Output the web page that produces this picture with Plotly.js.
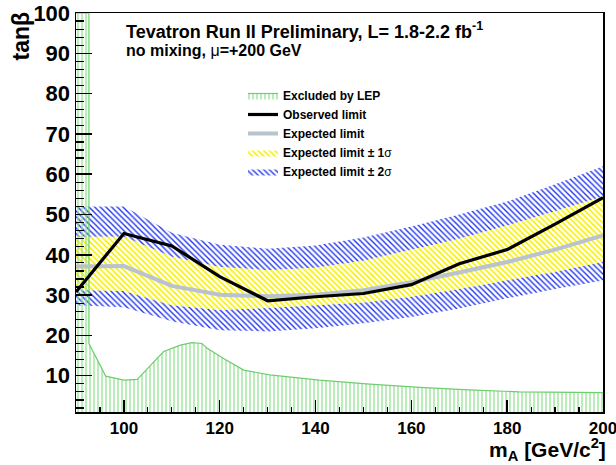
<!DOCTYPE html>
<html>
<head>
<meta charset="utf-8">
<script src="https://cdn.plot.ly/plotly-3.0.1.min.js"></script>
<style>html,body{margin:0;padding:0;background:#fff;}#chart{width:616px;height:465px;}</style>
</head>
<body>
<div id="chart"></div>
<script>
// Higgs mass points (GeV/c^2)
const mA = [90, 100, 110, 120, 130, 140, 150, 160, 170, 180, 190, 200];
// Observed and expected tanβ limits
const observed = [30.8, 45.3, 42.2, 34.6, 28.6, 29.6, 30.4, 32.6, 37.8, 41.3, 47.6, 54.2];
const expected = [37.1, 37.2, 32.3, 30.1, 29.7, 30.1, 31.2, 33.2, 35.6, 38.2, 41.3, 44.8];
// Expected band edges
const minus2 = [27.5, 27.0, 23.5, 21.3, 21.0, 21.8, 23.0, 24.6, 26.7, 29.2, 31.5, 33.6];
const minus1 = [31.3, 31.0, 27.5, 26.3, 26.8, 27.5, 28.2, 29.6, 31.5, 33.7, 35.8, 38.2];
const plus1  = [44.5, 44.5, 39.5, 37.0, 36.2, 36.8, 38.5, 41.3, 44.0, 47.3, 50.8, 54.5];
const plus2  = [52.0, 52.0, 45.5, 42.5, 41.5, 42.3, 44.3, 47.0, 50.0, 53.2, 57.5, 62.0];
// LEP excluded region boundary
const lepX = [90, 92.7, 92.7, 96.2, 100, 102.8, 105.5, 108.3, 111.8, 114.2, 116.3, 117.4, 120.8, 125, 130.4, 140.8, 151.3, 161.7, 172, 182.5, 200];
const lepY = [100, 100, 18.0, 9.9, 8.9, 9.1, 12.5, 16.0, 17.6, 18.2, 18.0, 16.8, 14.3, 11.4, 10.2, 8.9, 7.9, 7.1, 6.5, 6.0, 5.8];

const legendLabels = ['Excluded by LEP', 'Observed limit', 'Expected limit',
  'Expected limit ± 1<span style="font-weight:normal">σ</span>',
  'Expected limit ± 2<span style="font-weight:normal">σ</span>'];

const BLUE = 'rgb(35,55,235)';
const YELLOW = 'rgb(248,240,0)';
const none = {width: 0, color: 'rgba(0,0,0,0)'};
const transparent = 'rgba(0,0,0,0)';

const traces = [
  // upper 2σ band
  {x: mA, y: plus1, mode: 'lines', line: none, showlegend: false, hoverinfo: 'skip'},
  {x: mA, y: plus2, mode: 'lines', line: none, fill: 'tonexty', fillcolor: transparent,
   fillpattern: {shape: '\\', fgcolor: BLUE, bgcolor: transparent, size: 4, solidity: 0.35},
   name: legendLabels[4], legendrank: 5},
  // lower 2σ band
  {x: mA, y: minus2, mode: 'lines', line: none, showlegend: false, hoverinfo: 'skip'},
  {x: mA, y: minus1, mode: 'lines', line: none, fill: 'tonexty', fillcolor: transparent,
   fillpattern: {shape: '\\', fgcolor: BLUE, bgcolor: transparent, size: 4, solidity: 0.35},
   showlegend: false},
  // 1σ band
  {x: mA, y: minus1, mode: 'lines', line: none, showlegend: false, hoverinfo: 'skip'},
  {x: mA, y: plus1, mode: 'lines', line: none, fill: 'tonexty', fillcolor: transparent,
   fillpattern: {shape: '\\', fgcolor: YELLOW, bgcolor: transparent, size: 4, solidity: 0.4},
   name: legendLabels[3], legendrank: 4},
  // LEP
  {x: lepX, y: lepY, mode: 'lines', line: {width: 1.2, color: 'rgb(110,205,110)'}, fill: 'tozeroy', fillcolor: transparent,
   fillpattern: {shape: '|', fgcolor: 'rgb(140,225,140)', bgcolor: transparent, size: 4, solidity: 0.3},
   name: legendLabels[0], legendrank: 1},
  // expected
  {x: mA, y: expected, mode: 'lines', line: {width: 4, color: 'rgb(185,195,205)'}, name: legendLabels[2], legendrank: 3},
  // observed
  {x: mA, y: observed, mode: 'lines', line: {width: 3.2, color: 'black'}, name: legendLabels[1], legendrank: 2}
];

const FONT = 'Liberation Sans, Arial, Helvetica, sans-serif';
const W = 527, H = 399;

const layout = {
  width: 616, height: 465,
  margin: {l: 76, r: 13, t: 13, b: 53},
  paper_bgcolor: 'white', plot_bgcolor: 'white',
  font: {family: FONT, color: 'black', weight: 'bold'},
  showlegend: true,
  legend: {x: (243 - 76) / W, y: (412 - 81) / H, xanchor: 'left', yanchor: 'top',
           bgcolor: transparent, font: {size: 12, family: FONT, weight: 'bold'}, traceorder: 'normal',
           itemwidth: 30},
  xaxis: {range: [90, 200], tick0: 100, dtick: 20, ticks: 'inside', ticklen: 12, tickwidth: 1.5, tickcolor: 'black',
          minor: {dtick: 5, ticks: 'inside', ticklen: 5, tickwidth: 1.2, tickcolor: 'black'},
          showgrid: false, zeroline: false, showline: true, linecolor: 'black', linewidth: 1.5, mirror: true,
          ticklabeloverflow: 'allow',
          tickfont: {size: 17, family: FONT, weight: 'bold'}},
  yaxis: {range: [1, 100], tick0: 0, dtick: 10, ticks: 'inside', ticklen: 16, tickwidth: 1.5, tickcolor: 'black',
          minor: {dtick: 2, ticks: 'inside', ticklen: 8, tickwidth: 1.2, tickcolor: 'black'},
          showgrid: false, zeroline: false, showline: true, linecolor: 'black', linewidth: 1.5, mirror: true,
          ticklabeloverflow: 'allow',
          tickfont: {size: 22, family: FONT, weight: 'bold'}},
  annotations: [
    {text: 'Tevatron Run II Preliminary, L= 1.8-2.2 fb<sup>-1</sup>', xref: 'paper', yref: 'paper',
     x: (124 - 76) / W, y: (412 - 30) / H, xanchor: 'left', yanchor: 'middle', showarrow: false,
     font: {size: 18, family: FONT, weight: 'bold'}},
    {text: 'no mixing, <span style="font-weight:normal">μ</span>=+200 GeV', xref: 'paper', yref: 'paper',
     x: (124 - 76) / W, y: (412 - 50) / H, xanchor: 'left', yanchor: 'middle', showarrow: false,
     font: {size: 16, family: FONT, weight: 'bold'}},
    {text: 'tanβ', textangle: -90, xref: 'paper', yref: 'paper',
     x: (21 - 76) / W, y: (412 - 10) / H, xanchor: 'center', yanchor: 'top', showarrow: false,
     font: {size: 23, family: FONT, weight: 'bold'}},
    {text: 'm<sub>A</sub> [GeV/c<sup>2</sup>]', xref: 'paper', yref: 'paper',
     x: (607 - 76) / W, y: (412 - 449.5) / H, xanchor: 'right', yanchor: 'middle', showarrow: false,
     borderpad: 0,
     font: {size: 21, family: FONT, weight: 'bold'}}
  ]
};

Plotly.newPlot('chart', traces, layout, {displayModeBar: false, staticPlot: true});
</script>
</body>
</html>
